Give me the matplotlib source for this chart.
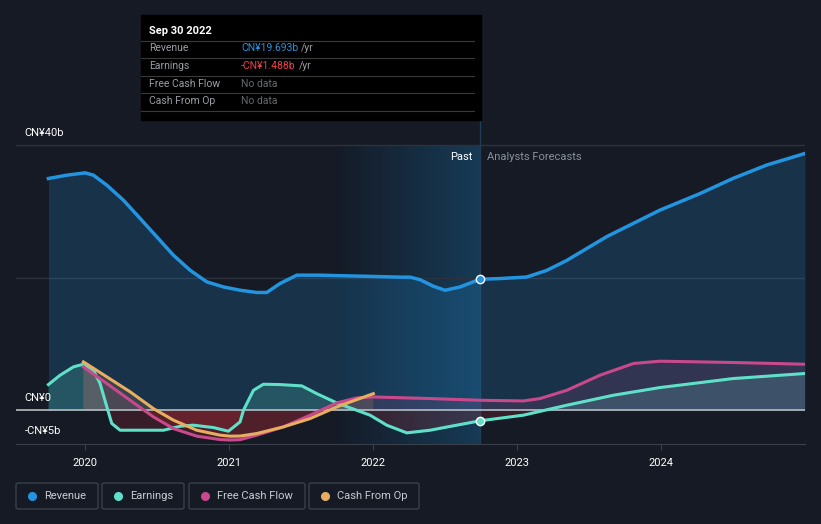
import matplotlib.pyplot as plt
import numpy as np
from matplotlib.patches import FancyBboxPatch, Rectangle
from matplotlib.lines import Line2D
from matplotlib.colors import LinearSegmentedColormap

plt.rcParams['font.family'] = ['Roboto', 'DejaVu Sans']

# data (CN¥ billions), x in fractional years
rev_x = [2019.745, 2019.873, 2020.0, 2020.058, 2020.151, 2020.266, 2020.382, 2020.498, 2020.613,
         2020.729, 2020.845, 2020.96, 2021.076, 2021.192, 2021.262, 2021.354, 2021.47, 2021.632,
         2021.771, 2021.979, 2022.188, 2022.257, 2022.326, 2022.42, 2022.5, 2022.604, 2022.743,
         2022.882, 2023.067, 2023.206, 2023.345, 2023.484, 2023.623, 2023.808, 2023.993,
         2024.271, 2024.502, 2024.734, 2025.0]
rev_y = [34.97, 35.47, 35.82, 35.47, 33.96, 31.7, 28.94, 26.16, 23.4,
         21.13, 19.37, 18.61, 18.11, 17.77, 17.77, 19.12, 20.38, 20.38,
         20.3, 20.2, 20.08, 20.08, 19.7, 18.7, 18.1, 18.6, 19.77,
         19.87, 20.1, 21.1, 22.6, 24.4, 26.2, 28.2, 30.2,
         32.7, 35.0, 37.0, 38.75]

earn_x = [2019.745, 2019.826, 2019.919, 2019.988, 2020.058, 2020.104, 2020.151, 2020.185, 2020.243,
          2020.382, 2020.544, 2020.66, 2020.752, 2020.891, 2020.995, 2021.076, 2021.10, 2021.169,
          2021.238, 2021.354, 2021.505, 2021.609, 2021.748, 2021.979, 2022.095, 2022.234, 2022.396,
          2022.581, 2022.743, 2023.044, 2023.345, 2023.669, 2023.993, 2024.502, 2025.0]
earn_y = [3.87, 5.28, 6.54, 6.94, 6.04, 4.03, 0.5, -2.0, -3.02,
          -3.02, -3.02, -2.42, -2.26, -2.62, -3.17, -1.77, 0.0, 3.0,
          3.92, 3.87, 3.67, 2.5, 1.1, -0.75, -2.26, -3.42, -3.02,
          -2.26, -1.6, -0.75, 0.75, 2.26, 3.42, 4.78, 5.54]

fcf_x = [2019.988, 2020.151, 2020.313, 2020.474, 2020.613, 2020.776, 2020.938, 2021.007, 2021.076,
         2021.192, 2021.377, 2021.563, 2021.748, 2021.887, 2022.002, 2022.396, 2022.743,
         2023.044, 2023.16, 2023.345, 2023.576, 2023.808, 2023.993, 2024.502, 2025.0]
fcf_y = [6.54, 4.03, 1.5, -1.0, -2.77, -3.92, -4.43, -4.5, -4.45,
         -3.77, -2.52, -0.75, 1.1, 1.86, 2.0, 1.76, 1.5,
         1.4, 1.76, 3.0, 5.28, 7.05, 7.4, 7.2, 6.94]

cfo_x = [2019.988, 2020.151, 2020.313, 2020.474, 2020.613, 2020.776, 2020.938, 2021.007,
         2021.076, 2021.192, 2021.377, 2021.563, 2021.748, 2021.887, 2022.002]
cfo_y = [7.3, 5.03, 2.77, 0.25, -1.5, -3.02, -3.77, -3.92,
         -3.9, -3.52, -2.52, -1.26, 0.5, 1.6, 2.5]

y_labels = {40: 'CN¥40b', 0: 'CN¥0', -5: '-CN¥5b'}
x_years = [2020, 2021, 2022, 2023, 2024]
legend_names = ['Revenue', 'Earnings', 'Free Cash Flow', 'Cash From Op']

BG = '#151a24'
C_REV = '#2394df'
C_EARN = '#5fe0c8'
C_FCF = '#c9498c'
C_CFO = '#e8ae60'
NOW = 2022.743
BAND_START = 2021.75

fig = plt.figure(figsize=(8.21, 5.24), dpi=100, facecolor=BG)
ax = fig.add_axes([16 / 821, 80 / 524, 789 / 821, 324 / 524])
ax.set_facecolor(BG)
ax.set_xlim(2019.52, 2025.0)
ax.set_ylim(-5.1, 43.8)

# past band gradient, drawn as thin strips
cmap = LinearSegmentedColormap.from_list('b', ['#141b27', '#163a55'])
n = 72
edges = np.linspace(BAND_START, NOW, n + 1)
for i in range(n):
    ax.add_patch(Rectangle((edges[i], -5.1), edges[i + 1] - edges[i] + 0.002, 45.1,
                           color=cmap(i / (n - 1)), lw=0, zorder=0.5))
ax.axvline(NOW, color='#1f3d57', lw=1, zorder=1)

for v in [20, 40]:
    ax.axhline(v, color='#2c333e', lw=1, zorder=1)

def area(x, y, c, a_pos, a_neg):
    x = np.array(x); y = np.array(y)
    ax.fill_between(x, y, 0, where=y >= 0, interpolate=True, color=c, alpha=a_pos, lw=0, zorder=2)
    ax.fill_between(x, y, 0, where=y <= 0, interpolate=True, color='#d0303a', alpha=a_neg, lw=0, zorder=2)

area(rev_x, rev_y, C_REV, 0.2, 0.0)
area(earn_x, earn_y, C_EARN, 0.2, 0.18)
area(fcf_x, fcf_y, C_FCF, 0.15, 0.2)
area(cfo_x, cfo_y, C_CFO, 0.15, 0.15)

ax.axhline(0, color='#b8bcc2', lw=1.2, zorder=3)

ax.plot(rev_x, rev_y, color=C_REV, lw=2.5, zorder=5, solid_joinstyle='round')
ax.plot(earn_x, earn_y, color=C_EARN, lw=2.2, zorder=5, solid_joinstyle='round')
ax.plot(fcf_x, fcf_y, color=C_FCF, lw=2.2, zorder=5, solid_joinstyle='round')
ax.plot(cfo_x, cfo_y, color=C_CFO, lw=2.2, zorder=6, solid_joinstyle='round')

ax.plot([NOW], [19.77], 'o', ms=6, color=C_REV, mec='white', mew=1, zorder=7)
ax.plot([NOW], [-1.6], 'o', ms=6, color=C_EARN, mec='white', mew=1, zorder=7)

for s in ['top', 'right', 'left']:
    ax.spines[s].set_visible(False)
ax.spines['bottom'].set_color('#3a404a')
ax.set_yticks([])
ax.set_xticks(x_years)
ax.set_xticklabels([str(v) for v in x_years], fontsize=8)
ax.tick_params(axis='x', colors='#3a404a', length=4, pad=6, labelcolor='white')

for v, t in y_labels.items():
    ax.text(2019.58, v + 1.8, t, color='white', fontsize=8, va='center', ha='left', zorder=8)

ax.text(NOW - 0.05, 38.2, 'Past', color='white', fontsize=8, ha='right', va='center', zorder=8)
ax.text(NOW + 0.05, 38.2, 'Analysts Forecasts', color='#8a9099', fontsize=8, ha='left', va='center', zorder=8)

# tooltip
W, H = 821, 524
def fx(px): return px / W
def fy(py): return 1 - py / H
fig.patches.append(Rectangle((fx(141), fy(120)), fx(481) - fx(141), fy(15) - fy(120),
                             transform=fig.transFigure, color='black', zorder=10))
fig.text(fx(149), fy(31), 'Sep 30 2022', color='white', fontsize=8, fontweight='bold', va='center', zorder=11)
for py in [41, 58, 76, 93, 111]:
    fig.add_artist(Line2D([fx(141), fx(474)], [fy(py), fy(py)], color='#3a3a3a', lw=0.8, zorder=11))
rows = [('Revenue', 'CN¥19.693b', C_REV, 48), ('Earnings', '-CN¥1.488b', '#f0404a', 66),
        ('Free Cash Flow', 'No data', '#666a70', 84), ('Cash From Op', 'No data', '#666a70', 101)]
fig.canvas.draw()
for lab, val, c, py in rows:
    fig.text(fx(149), fy(py), lab, color='#9a9ea4', fontsize=7.5, va='center', zorder=11)
    t = fig.text(fx(241), fy(py), val, color=c, fontsize=7.5, va='center', zorder=11)
    if val != 'No data':
        bb = t.get_window_extent(renderer=fig.canvas.get_renderer())
        fig.text(bb.x1 / W + 3 / W, fy(py), '/yr', color='#9a9ea4', fontsize=7.5, va='center', zorder=11)

# legend boxes
boxes = [(16, 98), (102, 184), (189, 305), (309, 419)]
for (x0, x1), name, c in zip(boxes, legend_names, [C_REV, C_EARN, C_FCF, C_CFO]):
    fig.patches.append(FancyBboxPatch((fx(x0), fy(509)), fx(x1) - fx(x0), fy(483) - fy(509),
                                      boxstyle='round,pad=0,rounding_size=0.003', transform=fig.transFigure,
                                      fc=BG, ec='#3a404a', lw=1))
    fig.add_artist(Line2D([fx(x0 + 16)], [fy(496)], marker='o', ms=5.5, color=c, lw=0))
    fig.text(fx(x0 + 28), fy(496), name, color='#c8ccd2', fontsize=8, va='center')

fig.savefig('out.png', dpi=100, facecolor=BG)
